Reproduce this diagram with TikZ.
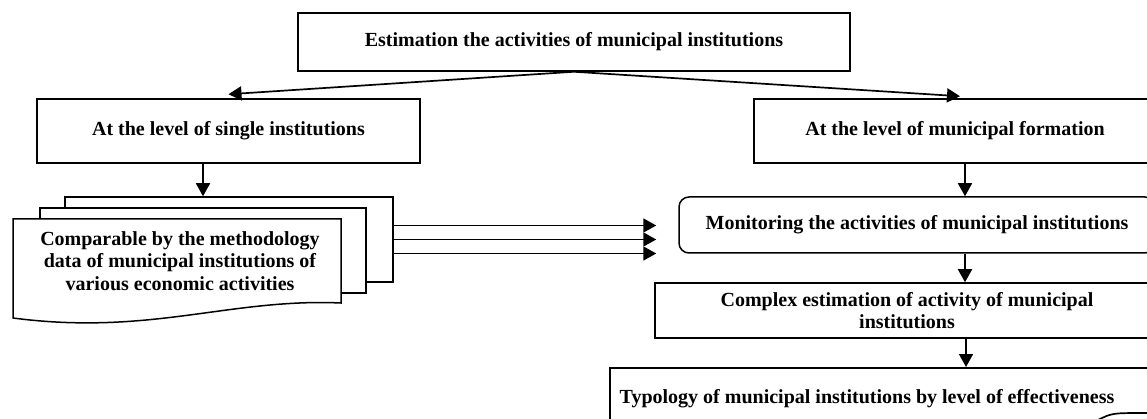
\documentclass[tikz,border=0pt]{standalone}
\usepackage{fontspec}
\setmainfont{Liberation Serif}
\usetikzlibrary{arrows.meta,calc}
\begin{document}
\begin{tikzpicture}[x=1pt,y=-1pt,
  txt/.style={inner sep=0pt,font=\bfseries\fontsize{20}{22.5}\selectfont,align=center},
  box/.style={txt,draw,line width=1.5pt,fill=white},
  rbox/.style={box,rounded corners=10pt},
  arr/.style={line width=1.7pt,-{Triangle[length=13pt,width=14pt]}},
  outl/.style={draw,line width=1.5pt,fill=white}
]
\useasboundingbox (0,0) rectangle (1147,419);
\clip (0,0) rectangle (1147,419);

% top level
\node[box,minimum width=552pt,minimum height=58pt] (top) at (574,42)
  {Estimation the activities of municipal institutions};
\node[box,minimum width=383pt,minimum height=64pt] (left) at (228.5,131)
  {At the level of single institutions};
\node[box,minimum width=402pt,minimum height=64pt] (right) at (955,131)
  {At the level of municipal formation};

\draw[arr] (top.south) -- ([yshift=4pt]left.north);
\draw[arr] (top.south) -- ([xshift=5pt,yshift=2pt]right.north);

% stacked documents
\node[box,minimum width=328pt,minimum height=85pt] (back) at (229,239.5) {};
\node[box,minimum width=326pt,minimum height=85pt] (mid) at (203,250.5) {};
\coordinate (fnw) at (13,219);
\coordinate (fne) at (341,219);
\coordinate (fse) at (341,303);
\coordinate (fsw) at (13,318);
\path[outl] (fnw) -- (fne) -- (fse)
  .. controls (230,298) and (150,336) .. (fsw) -- cycle;
\node[txt] (front) at (180,261)
  {Comparable by the methodology\\data of municipal institutions of\\various economic activities};

\draw[arr] (left.south -| mid.north) -- (mid.north |- back.north);

% right column
\node[rbox,minimum width=476pt,minimum height=56pt] (mon) at (917,225)
  {Monitoring the activities of municipal institutions};
\node[box,minimum width=504pt,minimum height=55pt] (cpx) at (907,310.5)
  {Complex estimation of activity of municipal\\institutions};
\node[box,minimum width=560pt,minimum height=64pt,anchor=north west] (typ) at (609,367) {};
\node[txt] (typtext) at (867,399)
  {Typology of municipal institutions by level of effectiveness};
\draw[line width=1.7pt] (1098,420) .. controls (1112,413) .. (1147,413);

\draw[arr] ([xshift=10pt]right.south) -- ([xshift=10pt]right.south |- mon.north);
\draw[arr] ([xshift=48pt]mon.south) -- ([xshift=48pt]mon.south |- cpx.north);
\draw[arr] ([xshift=59pt]cpx.south) -- ([xshift=59pt]cpx.south |- typ.north);

% three parallel arrows
\draw[arr] ($(back.east)+(0,-14)$) -- ($(back.east -| mon.west)+(-22,-14)$);
\draw[arr] (back.east) -- ($(back.east -| mon.west)+(-22,0)$);
\draw[arr] ($(back.east)+(0,14)$) -- ($(back.east -| mon.west)+(-22,14)$);
\end{tikzpicture}
\end{document}
